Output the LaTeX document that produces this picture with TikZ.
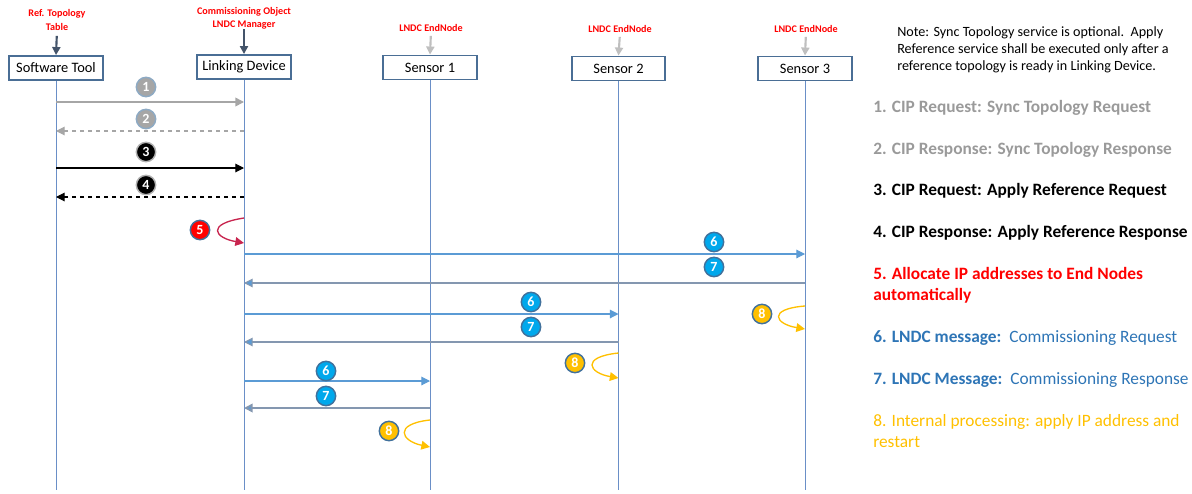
\documentclass[tikz,border=0pt]{standalone}
\usepackage{fontspec}
\setmainfont{Carlito}
\usetikzlibrary{arrows.meta,positioning}
\definecolor{boxline}{HTML}{4A6E95}
\definecolor{lifeblue}{HTML}{6A8FC7}
\definecolor{tagred}{HTML}{FF0000}
\definecolor{darkfeed}{HTML}{44546A}
\definecolor{lightfeed}{HTML}{BFBFBF}
\definecolor{msggray}{HTML}{A6A6A6}
\definecolor{numedge}{HTML}{41719C}
\definecolor{msgblue}{HTML}{5B9BD5}
\definecolor{resblue}{HTML}{8497B0}
\definecolor{numcyan}{HTML}{00A8EC}
\definecolor{procyellow}{HTML}{FFC000}
\definecolor{selfred}{HTML}{C8254F}
\definecolor{leggray}{HTML}{9A9A9A}
\definecolor{legblue}{HTML}{2E75B6}

\begin{document}
\begin{tikzpicture}[
  x=0.75pt,y=-0.75pt,
  actor/.style={draw=boxline,line width=1.4pt,fill=white,minimum width=70pt,minimum height=18pt,inner sep=1pt,font=\fontsize{10.8}{12}\selectfont},
  tag/.style={text=tagred,align=center,inner sep=0pt,font=\fontsize{7.6}{10}\selectfont\bfseries},
  feed/.style={-{Triangle[length=6pt,width=6pt]},line width=1.6pt},
  life/.style={draw=lifeblue,line width=0.7pt},
  num/.style={circle,draw=numedge,line width=1.1pt,minimum size=14.5pt,inner sep=0pt,text=white,font=\fontsize{10.5}{10.5}\selectfont\bfseries},
  arr/.style={-{Triangle[length=6.5pt,width=6.5pt]}},
  legend/.style={anchor=west,align=left,inner sep=0pt,font=\fontsize{13}{15.75}\selectfont}
]
\useasboundingbox (0,0) rectangle (1192,493);

% participants
\node[actor] (tool) at (56,68) {Software Tool};
\node[actor] (ld) at (244,67) {Linking Device};
\node[actor] (s1) at (430,67.5) {Sensor 1};
\node[actor] (s2) at (618.5,68.5) {Sensor 2};
\node[actor] (s3) at (805,68.5) {Sensor 3};

% labels above
\node[tag] (reftab) at (57,20) {Ref. Topology\\Table};
\node[tag] (cobj) at (244,18) {Commissioning Object\\LNDC Manager};
\node[tag] (en1) at (431,28) {LNDC EndNode};
\node[tag] (en2) at (620,29) {LNDC EndNode};
\node[tag] (en3) at (806,29) {LNDC EndNode};
\draw[feed,darkfeed,shorten <=4pt] (reftab.south) -- (tool.north);
\draw[feed,darkfeed] (cobj.south) -- (ld.north);
\draw[feed,lightfeed,shorten <=3pt] (en1.south) -- (s1.north);
\draw[feed,lightfeed,shorten <=3pt] (en2.south) -- (s2.north);
\draw[feed,lightfeed,shorten <=3pt] (en3.south) -- (s3.north);

% lifelines
\draw[life] (tool.south) -- (tool |- 0,490);
\draw[life] (ld.south) -- (ld |- 0,490);
\draw[life] (s1.south) -- (s1 |- 0,490);
\draw[life] (s2.south) -- (s2 |- 0,490);
\draw[life] (s3.south) -- (s3 |- 0,490);

% sync topology
\draw[arr,msggray,line width=1.2pt] (tool |- 0,102) -- (ld |- 0,102);
\node[num,fill=msggray,draw=numedge!60] (n1) at (146,87) {1};
\draw[arr,msggray,dashed,line width=0.8pt] (ld |- 0,131) -- (tool |- 0,131);
\node[num,fill=msggray,draw=numedge!60] (n2) at (146,119) {2};

% apply reference
\draw[arr,black,line width=0.8pt] (tool |- 0,168) -- (ld |- 0,168);
\node[num,fill=black,draw=gray!60] (n3) at (146,152) {3};
\draw[arr,black,dashed,line width=0.8pt] (ld |- 0,197) -- (tool |- 0,197);
\node[num,fill=black,draw=gray!60] (n4) at (146,185) {4};

% allocate
\draw[arr,selfred,line width=1pt] (ld |- 0,218) .. controls (205,224) and (215,238) .. (ld |- 0,243);
\node[num,fill=red] (n5) at (200,230) {5};

% sensor 3
\draw[arr,msgblue,line width=0.8pt] (ld |- 0,254) -- (s3 |- 0,254);
\node[num,fill=numcyan] (n6c) at (714,242) {6};
\draw[arr,resblue,line width=0.8pt,-{Triangle[length=6.5pt,width=6.5pt,fill=msgblue]}] (s3 |- 0,283) -- (ld |- 0,283);
\node[num,fill=numcyan] (n7c) at (714,267) {7};
\draw[arr,procyellow,line width=1pt] (s3 |- 0,306) .. controls (767,309) and (775,324) .. (s3 |- 0,329);
\node[num,fill=procyellow] (n8c) at (762,314) {8};

% sensor 2
\draw[arr,msgblue,line width=0.8pt] (ld |- 0,314) -- (s2 |- 0,314);
\node[num,fill=numcyan] (n6b) at (531,302) {6};
\draw[arr,resblue,line width=0.8pt,-{Triangle[length=6.5pt,width=6.5pt,fill=msgblue]}] (s2 |- 0,342) -- (ld |- 0,342);
\node[num,fill=numcyan] (n7b) at (531,327) {7};
\draw[arr,procyellow,line width=1pt] (s2 |- 0,353) .. controls (580,357) and (589,373) .. (s2 |- 0,378);
\node[num,fill=procyellow] (n8b) at (575,363) {8};

% sensor 1
\draw[arr,msgblue,line width=0.8pt] (ld |- 0,381) -- (s1 |- 0,381);
\node[num,fill=numcyan] (n6a) at (326,371) {6};
\draw[arr,resblue,line width=1.3pt,-{Triangle[length=6.5pt,width=6.5pt,fill=msgblue]}] (s1 |- 0,408) -- (ld |- 0,408);
\node[num,fill=numcyan] (n7a) at (326,396) {7};
\draw[arr,procyellow,line width=1pt] (s1 |- 0,420) .. controls (393,424) and (401,441) .. (s1 |- 0,447);
\node[num,fill=procyellow] (n8a) at (389,431) {8};

% note and legend
\node[anchor=west,align=left,inner sep=0pt,font=\fontsize{10.6}{12.75}\selectfont] (note) at (897,50)
  {Note: Sync Topology service is optional.\ \ Apply\\Reference service shall be executed only after a\\reference topology is ready in Linking Device.};
\node[legend,text=leggray] (l1) at (873,108) {\bfseries 1. CIP Request: Sync Topology Request};
\node[legend,text=leggray] (l2) at (873,150) {\bfseries 2. CIP Response: Sync Topology Response};
\node[legend,text=black] (l3) at (873,191) {\bfseries 3. CIP Request: Apply Reference Request};
\node[legend,text=black] (l4) at (873,233) {\bfseries 4. CIP Response: Apply Reference Response};
\node[legend,text=tagred] (l5) at (873,285.5) {\bfseries 5. Allocate IP addresses to End Nodes\\\bfseries automatically};
\node[legend,text=legblue] (l6) at (873,338) {\textbf{6. LNDC message:}\ \ Commissioning Request};
\node[legend,text=legblue] (l7) at (873,380) {\textbf{7. LNDC Message:}\ \ Commissioning Response};
\node[legend,text=procyellow] (l8) at (873,431) {8. Internal processing: apply IP address and\\restart};
\end{tikzpicture}
\end{document}
